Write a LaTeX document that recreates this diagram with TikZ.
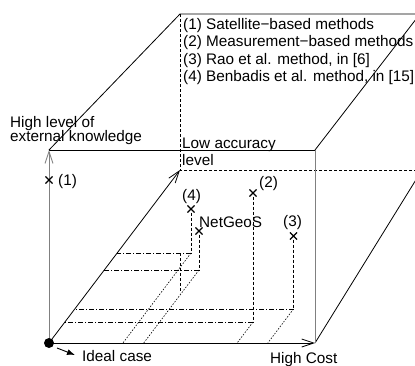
\documentclass[tikz,border=0pt]{standalone}
\usepackage{fontspec}
\setmainfont{Liberation Sans}
\usetikzlibrary{arrows.meta,shapes.misc}

\begin{document}
\begin{tikzpicture}[x=1pt,y=-1pt,
  edge/.style={line width=0.8pt},
  axisgray/.style={line width=0.9pt, draw=black!50},
  hidden/.style={line width=0.7pt, dash pattern=on 3pt off 2pt},
  drop/.style={line width=0.7pt, dash pattern=on 3pt off 2pt},
  floorx/.style={line width=0.7pt, dash pattern=on 5pt off 2pt on 1pt off 2pt},
  floory/.style={line width=0.6pt, dash pattern=on 1.5pt off 1.5pt},
  xmark/.style={draw, cross out, minimum size=6pt, inner sep=0pt, line width=1.1pt},
  lbl/.style={inner sep=0pt, anchor=base west, font=\fontsize{15.3}{17}\selectfont},
  openarrow/.style={-{Straight Barb[length=12pt,width=8pt]}},
]
\useasboundingbox (0,0) rectangle (415,365);
\clip (0,0) rectangle (415,365);

% corners of the box
\coordinate (O)   at (49,343);
\coordinate (FTL) at (49,150);
\coordinate (FBR) at (315,343);
\coordinate (FTR) at (315,150);
\coordinate (BTL) at (180,14);
\coordinate (BBL) at (180,170);
\coordinate (BTR) at (420,14);
\coordinate (BBR) at (422,170);

% box edges
\draw[edge] (FTL) -- (BTL) -- (BTR);
\draw[edge] (FTL) -- (FTR);
\draw[edge] (FTR) -- (BTR);
\draw[edge] (FBR) -- (BBR);
\draw[hidden] (BTL) -- (BBL) -- (BBR);

% axes
\draw[axisgray, openarrow] (O) -- (FTL);
\draw[axisgray] (FBR) -- (FTR);
\draw[edge, openarrow] (O) -- (FBR);
\draw[edge, openarrow] (O) -- (BBL);

% origin and ideal-case pointer
\node[circle, fill, minimum size=10pt, inner sep=0pt] (dot) at (O) {};
\coordinate (IA) at (57,348);
\coordinate (IB) at (75,355);
\draw[line width=0.9pt, -{Latex[length=8pt,width=6pt]}] (IA) -- (IB);

% methods
\node[xmark] (P1) at (49,180) {};
\node[xmark] (P4) at (191,209) {};
\node[xmark] (PN) at (199,231) {};
\node[xmark] (P2) at (253,193) {};
\node[xmark] (P3) at (293.5,236) {};

% floor projections
\coordinate (F4) at (191,253);
\coordinate (FN) at (199,270);
\coordinate (F2) at (253,322);
\coordinate (F3) at (293.5,309);
% on the accuracy axis
\coordinate (G4) at (117.1,253);
\coordinate (GN) at (104.3,270);
\coordinate (G2) at (64.9,322);
\coordinate (G3) at (74.7,309);
% on the cost axis
\coordinate (H4) at (122.9,343);
\coordinate (HN) at (143.7,343);
\coordinate (H2) at (237.1,343);
\coordinate (H3) at (267.8,343);

\draw[drop] (P4) -- (F4);
\draw[drop] (PN) -- (FN);
\draw[drop] (P2) -- (F2);
\draw[drop] (P3) -- (F3);

\draw[floorx] (F4) -- (G4);
\draw[floorx] (FN) -- (GN);
\draw[floorx] (F2) -- (G2);
\draw[floorx] (F3) -- (G3);

\draw[floory] (F4) -- (H4);
\draw[floory] (FN) -- (HN);
\draw[floory] (F2) -- (H2);
\draw[floory] (F3) -- (H3);

\coordinate (E1) at (180,253);
\coordinate (E2) at (180,293);
\draw[drop] (E1) -- (E2);

% labels
\node[lbl] (l1) at (58,185) {(1)};
\node[lbl] (l4) at (182,200) {(4)};
\node[lbl] (l2) at (259,187) {(2)};
\node[lbl] (l3) at (283,226) {(3)};
\node[lbl] (lN) at (199,227.5) {NetGeoS};
\node[lbl] (ideal) at (82,361) {Ideal case};
\node[lbl] (cost) at (270,363) {High Cost};
\node[lbl] (know1) at (10,127) {High level of};
\node[lbl] (know2) at (10,141) {external knowledge};
\node[lbl] (acc1) at (182,148) {Low accuracy};
\node[lbl] (acc2) at (182,165) {level};

% legend
\node[lbl] (k1) at (183,29) {(1) Satellite−based methods};
\node[lbl] (k2) at (183,46.5) {(2) Measurement−based methods};
\node[lbl] (k3) at (183,64) {(3) Rao et al. method, in [6]};
\node[lbl] (k4) at (183,81) {(4) Benbadis et al. method, in [15]};
\end{tikzpicture}
\end{document}
